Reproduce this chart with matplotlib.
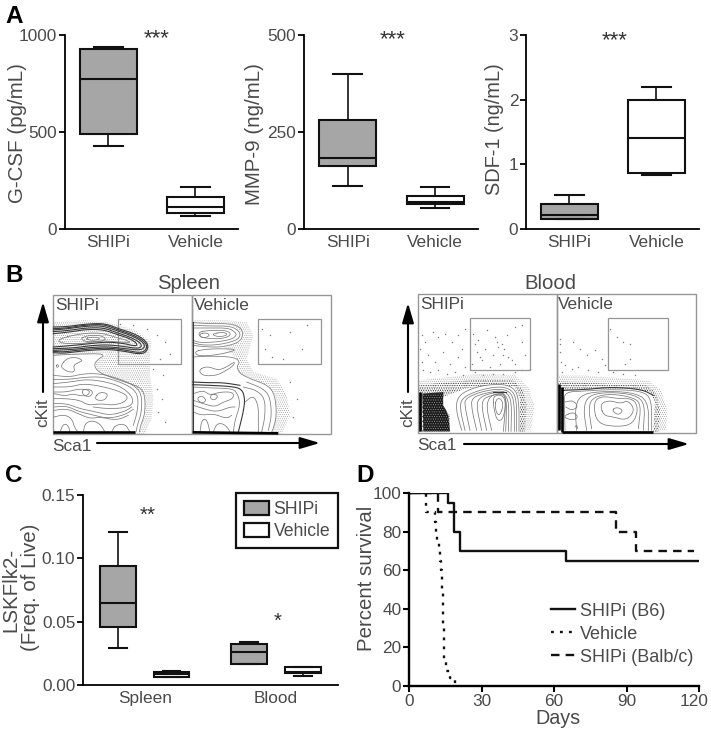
import numpy as np
import matplotlib
matplotlib.use("Agg")
import matplotlib.pyplot as plt
from matplotlib.patches import Polygon, Patch, Rectangle
from matplotlib.transforms import ScaledTranslation

plt.rcParams['font.family'] = ['Liberation Sans', 'DejaVu Sans']
plt.rcParams['hatch.linewidth'] = 0.4
W, H = 711, 729
TXT = '#4a4a4a'
GREY = '#a6a6a6'

# ---------- panel A / C box statistics: (whisker low, q1, median, q3, whisker high)
group_labels = ['SHIPi', 'Vehicle']
gcsf = [(430, 488, 771, 926, 940), (67, 84, 112, 163, 215)]
mmp9 = [(110, 162, 183, 280, 400), (55, 64, 70, 84, 108)]
sdf1 = [(0.15, 0.16, 0.22, 0.39, 0.53), (0.83, 0.86, 1.41, 1.99, 2.19)]
lsk = [(0.029, 0.046, 0.0645, 0.094, 0.121), (0.006, 0.0066, 0.0084, 0.0103, 0.0113),
       (0.0163, 0.0163, 0.0258, 0.032, 0.034), (0.0071, 0.0092, 0.0105, 0.0145, 0.0145)]
lsk_groups = ['Spleen', 'Blood']

# ---------- panel D survival
b6_days = [0, 16.2, 18.8, 20.9, 65, 120]
b6_pct = [100, 95, 80, 70, 65, 65]
veh_days = [0, 7, 10.8, 11.2, 11.7, 12.3, 12.8, 13.2, 13.5, 13.8, 14, 14.1, 14.2, 14.3, 14.6, 15.3, 17, 19]
veh_pct = [100, 90, 85, 80, 75, 70, 65, 60, 55, 50, 45, 40, 30, 20, 13, 8, 4, 0]
balb_days = [0, 11.9, 85.8, 94, 117.8]
balb_pct = [100, 90, 80, 70, 70]
surv_labels = ['SHIPi (B6)', 'Vehicle', 'SHIPi (Balb/c)']

# ---------- panel B flow outlines (3x crop coordinates)
ss_lines = [
 [(10,190),(80,186),(170,185),(140,205),(132,220),(145,240),(180,255),(230,272),(270,285),(285,310),(285,365),(272,400),(268,420)],
 [(10,250),(60,255),(100,245),(150,245),(200,258),(250,278),(275,305),(275,360),(262,400),(258,420)],
 [(10,262),(60,262),(110,255),(160,255),(210,270),(250,290),(265,315),(262,360),(250,400)],
 [(35,217),(50,200),(75,195),(100,205),(85,212),(70,220),(75,240),(55,240),(35,228),(35,217)],
 [(18,222),(22,217),(27,222),(22,227),(18,222)],
 [(10,275),(60,270),(110,262),(160,268),(210,282),(245,310),(250,335),(225,348),(170,350),(130,345)],
 [(12,285),(60,285),(100,275),(150,282),(200,295),(235,312),(225,330),(190,340),(150,335),(115,340),(90,325),(50,320),(12,320)],
 [(12,300),(50,300),(90,290),(120,295),(115,310),(90,312),(70,305),(45,312),(12,305)],
 [(12,335),(50,335),(90,350),(130,358),(180,370),(225,358),(245,345)],
 [(12,345),(50,342),(85,358),(125,368),(175,380),(225,368),(250,352)],
 [(12,355),(50,350),(85,365),(120,380),(150,375),(200,385),(235,370)],
 [(12,375),(40,368),(65,378),(75,410),(85,420)],
 [(100,420),(105,395),(125,385),(150,395),(165,420)],
 [(185,420),(195,400),(225,395),(240,420)],
 [(30,420),(40,395),(55,400),(60,420)],
 [(95,295),(115,290),(130,300),(120,315),(100,310),(95,295)],
 [(135,315),(150,300),(175,305),(165,325),(140,325),(135,315)],
 [(30,140),(90,125),(150,122),(195,135),(230,145),(245,152),(200,150),(150,145),(100,155),(50,155),(25,150),(30,140)],
 [(90,140),(115,130),(150,130),(170,140),(150,150),(110,150),(90,140)],
 [(105,140),(125,135),(145,137),(150,142),(125,146),(105,140)],
]
ss_dark = [
 [(10,105),(50,104),(100,97),(150,94),(178,99),(205,110),(245,122),(280,140),(296,160),(288,182),(265,186),(230,179),(180,172),(130,174),(80,179),(40,184),(10,182)],
 [(10,110),(50,108),(100,100),(150,97),(175,102),(200,112),(240,125),(275,142),(292,160),(285,178),(265,182),(230,175),(180,168),(130,170),(80,175),(40,180),(10,178)],
 [(10,114),(55,110),(103,103),(155,101),(188,112),(240,129),(272,145),(286,161),(275,175),(225,170),(175,164),(125,166),(75,172),(10,175)],
 [(10,119),(60,115),(105,108),(160,107),(200,122),(240,135),(268,150),(276,162),(265,170),(220,163),(170,158),(120,161),(70,168),(10,170)],
 [(10,125),(60,120),(110,112),(160,113),(200,127),(240,140),(262,155),(258,163),(215,153),(165,150),(110,156),(60,161),(10,165)],
]
ss_heavy = [[(10,421),(255,421)]]
ss_stipple = [(10,90),(100,85),(170,90),(250,112),(305,150),(300,190),(300,250),(310,320),(305,380),(285,425),(10,425)]
ss_clear = [(10,190),(170,185),(135,215),(145,240),(230,272),(285,310),(285,365),(268,422),(10,422)]
ss_dots = [(210,95),(250,100),(290,110),(320,130),(345,150),(360,185),(330,200),(310,230),(340,250),(320,290),(335,320),(325,360),(345,390)]

sv_lines = [
 [(8,92),(60,95),(120,95),(150,105),(160,125),(150,150),(100,165),(50,165),(8,160)],
 [(8,100),(60,102),(120,102),(145,115),(152,130),(140,145),(90,158),(40,160),(8,152)],
 [(8,108),(60,108),(115,108),(135,120),(140,130),(125,142),(80,150),(30,152),(8,145)],
 [(25,120),(60,115),(110,115),(125,128),(100,140),(60,140),(30,135),(25,120)],
 [(30,125),(50,122),(60,130),(45,138),(30,135),(30,125)],
 [(70,125),(100,120),(115,128),(90,135),(70,130),(70,125)],
 [(15,178),(45,172),(90,170),(145,172),(100,185),(50,192),(20,190),(15,178)],
 [(8,195),(60,192),(130,195),(150,208),(140,225),(150,245),(180,260),(235,280),(255,310),(260,370),(250,410),(245,420)],
 [(25,235),(50,222),(85,235),(110,225),(135,208),(130,222),(100,240),(80,250),(40,252),(25,235)],
 [(8,285),(70,288),(130,290),(145,310),(150,340),(135,385),(130,420)],
 [(170,270),(220,290),(240,315),(245,370),(235,415)],
 [(160,285),(200,295),(225,320),(225,375),(215,420)],
 [(165,330),(190,310),(205,340),(205,385),(205,420)],
 [(10,305),(40,295),(60,310),(90,300),(130,300),(130,320),(100,330),(75,345),(40,335),(10,325)],
 [(10,340),(40,350),(80,360),(120,345),(135,345)],
 [(10,360),(35,370),(70,365),(110,380),(125,370)],
 [(30,420),(35,385),(50,380),(60,420)],
 [(70,420),(80,395),(100,395),(115,410),(120,420)],
 [(20,320),(35,310),(50,325),(35,335),(20,320)],
 [(65,305),(85,310),(75,325),(60,320),(65,305)],
]
sv_dark = [[(8,270),(50,272),(100,272),(150,280)], [(8,278),(60,280),(120,283),(155,290),(165,320),(160,360),(145,420)], [(8,90),(8,420)]]
sv_heavy = [[(8,421),(265,424)]]
sv_stipple = [(10,85),(110,85),(170,90),(190,130),(170,200),(190,240),(260,260),(290,310),(300,370),(275,425),(8,425)]
sv_clear = [(8,92),(120,95),(160,125),(150,150),(100,165),(135,195),(150,208),(140,225),(150,245),(235,280),(255,310),(260,370),(245,422),(8,422)]
sv_dots = [(215,110),(240,130),(225,170),(245,195),(300,120),(350,100),(335,170),(280,200),(300,270),(320,320),(310,375)]

bs_lines = [
 [(140,415),(122,350),(130,310),(180,285),(250,275),(295,285),(312,320),(312,418)],
 [(150,415),(135,350),(140,318),(190,295),(250,283),(290,292),(305,325),(305,418)],
 [(165,415),(150,345),(150,320),(195,300),(250,290),(285,298),(298,330),(298,418)],
 [(185,415),(170,350),(170,318),(205,305),(255,295),(280,305),(290,335),(288,418)],
 [(200,415),(185,345),(190,320),(220,305),(260,300),(275,315),(282,340),(280,418)],
 [(215,415),(200,345),(205,320),(230,310),(262,305),(272,320),(275,345),(272,418)],
 [(230,415),(215,350),(220,320),(240,305),(270,305),(272,340),(265,418)],
 [(235,340),(235,315),(250,308),(268,315),(272,345),(262,385),(245,385),(235,340)],
 [(240,340),(245,320),(258,320),(265,340),(255,370),(245,365),(240,340)],
]
bs_dark = [[(235,300),(272,300)]]
bs_heavy = [[(15,300),(15,418)]]
bs_stipple = [(12,265),(100,255),(200,245),(300,250),(340,285),(358,340),(348,418),(12,420)]
bs_band = [(12,280),(100,270),(200,262),(295,265),(325,295),(335,340),(330,420),(12,420)]
bs_black = [(22,305),(85,300),(85,340),(100,370),(105,418),(25,418)]
bs_clear = [(85,315),(150,290),(250,275),(300,285),(315,320),(315,420),(105,420),(105,370),(85,340)]
bs_dots = [(22,130),(30,150),(55,120),(70,135),(90,125),(110,150),(130,130),(150,110),(175,125),(190,145),(215,115),
 (240,135),(260,155),(275,130),(300,105),(320,150),(185,180),(210,170),(235,190),(250,165),(268,170),(290,205),(300,215),
 (330,190),(40,190),(60,210),(85,180),(105,215),(130,195),(150,225),(170,215),(200,205),(225,225),(255,215),(280,195),
 (25,235),(45,240),(70,235),(95,245),(120,240),(145,250),(180,240),(205,250),(235,245),(265,245),(300,240),(320,235),
 (15,170),(20,210),(345,230),(180,155),(195,195),(245,150),(265,190),(320,100),(140,170)]
bv_lines = [
 [(30,415),(28,330),(30,300),(90,297),(170,292),(260,297),(290,320),(290,415)],
 [(65,415),(60,350),(75,310),(130,298),(230,300),(280,325),(280,415)],
 [(95,415),(85,350),(100,310),(160,300),(240,308),(270,335),(265,415)],
 [(110,410),(100,345),(115,315),(170,305),(240,318),(258,340),(250,410)],
 [(125,395),(115,330),(140,312),(190,320),(235,320),(250,350),(235,395),(190,405),(125,395)],
 [(145,370),(135,335),(165,325),(195,335),(220,325),(240,355),(215,385),(175,375),(145,370)],
 [(170,355),(185,345),(205,355),(190,370),(170,355)],
 [(30,370),(55,360),(70,375),(55,385),(30,378),(30,370)],
 [(30,330),(55,325),(70,345),(50,355),(32,345)],
 [(60,405),(65,398),(68,410)],
]
bv_dark = [[(25,295),(100,292),(170,285),(260,292),(295,310)]]
bv_heavy = [[(12,275),(12,415)], [(22,285),(22,420)], [(22,420),(295,420)]]
bv_stipple = [(10,250),(80,250),(180,257),(280,265),(318,295),(338,360),(332,415),(300,420),(20,420)]
bv_band = [(10,268),(80,272),(180,276),(275,280),(305,305),(315,360),(310,420),(20,420)]
bv_clear = [(25,295),(130,290),(230,290),(285,300),(300,330),(295,418),(22,418)]
bv_dots = [(15,140),(15,180),(18,210),(55,150),(75,170),(95,190),(120,175),(140,200),(165,110),(185,135),(205,150),(225,155),
 (210,215),(225,200),(30,220),(50,230),(70,225),(100,235),(130,240),(150,220),(175,240),(205,245),(240,250),(20,240),(15,155)]


def px_axes(fig, l, t, r, b):
    return fig.add_axes([l / W, 1 - b / H, (r - l) / W, (b - t) / H])


def stats(rows, labels):
    return [dict(whislo=r[0], q1=r[1], med=r[2], q3=r[3], whishi=r[4], label=n, fliers=[])
            for r, n in zip(rows, labels)]


def boxes(ax, rows, labels, pos, width):
    return ax.bxp(stats(rows, labels), positions=pos, widths=width, patch_artist=True, showfliers=False,
                  capwidths=width * 0.5,
                  boxprops=dict(linewidth=1.5, edgecolor='#111111'),
                  medianprops=dict(color='#111111', linewidth=1.5),
                  whiskerprops=dict(color='#111111', linewidth=1.2),
                  capprops=dict(color='#111111', linewidth=1.5))


def style(ax):
    for s in ('top', 'right'):
        ax.spines[s].set_visible(False)
    for s in ('left', 'bottom'):
        ax.spines[s].set_linewidth(1.3)
    ax.tick_params(axis='y', labelsize=12.4, labelcolor=TXT, length=4, width=1.3, pad=1.5)
    ax.tick_params(axis='x', labelsize=12.4, labelcolor=TXT, length=0, pad=4)


fig = plt.figure(figsize=(W / 100, H / 100), dpi=100)

# Panel A
a_specs = [
    (65, 238, gcsf, (0, 1000), [0, 500, 1000]),
    (304, 478, mmp9, (0, 500), [0, 250, 500]),
    (526, 699, sdf1, (0, 3), [0, 1, 2, 3]),
]
for l, r, rows, yl, yt in a_specs:
    ax = px_axes(fig, l, 35, r, 229)
    arts = boxes(ax, rows, group_labels, [1, 2], 0.655)
    arts['boxes'][0].set_facecolor(GREY)
    arts['boxes'][1].set_facecolor('white')
    ax.set_xlim(0.5, 2.49)
    ax.set_ylim(*yl)
    ax.set_yticks(yt)
    style(ax)

# Panel C
ax = px_axes(fig, 83, 495, 338, 685)
pos = [1, 2, 3.45, 4.45]
arts = boxes(ax, lsk, [''] * 4, pos, 0.67)
for i, b in enumerate(arts['boxes']):
    b.set_facecolor(GREY if i % 2 == 0 else 'white')
ax.set_xlim(0.346, 5.11)
ax.set_ylim(0, 0.15)
ax.set_yticks([0, 0.05, 0.10, 0.15])
ax.set_yticklabels(['0.00', '0.05', '0.10', '0.15'])
ax.set_xticks([1.5, 3.95])
ax.set_xticklabels(lsk_groups)
style(ax)
leg = ax.legend(handles=[Patch(facecolor=GREY, edgecolor='#111111', linewidth=1.6, label=group_labels[0]),
                         Patch(facecolor='white', edgecolor='#111111', linewidth=1.6, label=group_labels[1])],
                loc='upper right', bbox_to_anchor=(1.0, 1.012), fontsize=12.7, fancybox=False, framealpha=1,
                edgecolor='#111111', labelcolor=TXT, handlelength=1.4, handleheight=0.85, handletextpad=0.25,
                labelspacing=0.28, borderpad=0.45, borderaxespad=0)
leg.get_frame().set_linewidth(1.6)

# Panel D
ax = px_axes(fig, 409, 493, 699, 686)
ax.step(b6_days, b6_pct, where='post', color='#111111', lw=1.7, label=surv_labels[0])
ax.step(veh_days, veh_pct, where='post', color='#111111', lw=1.7, ls=(0, (1.2, 2.6)), label=surv_labels[1])
ax.step(balb_days, balb_pct, where='post', color='#111111', lw=1.7, ls=(0, (3.6, 2.6)), label=surv_labels[2])
ax.set_xlim(0, 120)
ax.set_ylim(0, 100)
ax.set_xticks([0, 30, 60, 90, 120])
ax.set_yticks([0, 20, 40, 60, 80, 100])
style(ax)
for s in ('left', 'bottom'):
    ax.spines[s].set_linewidth(1.7)
ax.tick_params(axis='x', length=4, width=1.5, pad=1.5)
ax.tick_params(axis='y', width=1.5)
last = ax.get_xticklabels()[-1]
last.set_transform(last.get_transform() + ScaledTranslation(-5 / 100, 0, fig.dpi_scale_trans))
ax.legend(loc='upper left', bbox_to_anchor=(0.488, 0.432), frameon=False, fontsize=13, labelcolor=TXT,
          handlelength=1.35, handletextpad=0.3, labelspacing=0.33, borderpad=0, borderaxespad=0)

# Overlay in picture coordinates for panel B and free text
ov = fig.add_axes([0, 0, 1, 1], zorder=5)
ov.set_xlim(0, W)
ov.set_ylim(H, 0)
ov.axis('off')


def conv(pts, ox, oy):
    p = np.array(pts, float) / 3 + (ox, oy)
    closed = np.allclose(p[0], p[-1])
    for _ in range(2):
        a, b = p[:-1], p[1:]
        q = np.empty((2 * len(a), 2))
        q[0::2] = 0.75 * a + 0.25 * b
        q[1::2] = 0.25 * a + 0.75 * b
        p = np.vstack([q, q[:1]]) if closed else np.vstack([p[:1], q, p[-1:]])
    return p


def shade(pts, ox, oy, color, hatch, fc='none'):
    ov.add_patch(Polygon(np.array(pts, float) / 3 + (ox, oy), closed=True, facecolor=fc,
                         edgecolor=color, lw=0, hatch=hatch))


def flow(ox, oy, stipple, clear, lines, dark, heavy, dots=None, black=None, band=None):
    shade(stipple, ox, oy, '#9a9a9a', '........')
    if band is not None:
        shade(band, ox, oy, '#333333', '.......')
    if black is not None:
        shade(black, ox, oy, '#a0a0a0', '.......', fc='#1a1a1a')
    ov.add_patch(Polygon(np.array(clear, float) / 3 + (ox, oy), closed=True, facecolor='white', edgecolor='none'))
    if dots is not None:
        d = np.array(dots, float) / 3 + (ox, oy)
        ov.scatter(d[:, 0], d[:, 1], s=1.1, color='#808080', linewidths=0)
    for ln in lines:
        p = conv(ln, ox, oy)
        ov.plot(p[:, 0], p[:, 1], color='#7a7a7a', lw=0.55)
    for ln in dark:
        p = conv(ln, ox, oy)
        ov.plot(p[:, 0], p[:, 1], color='#3a3a3a', lw=0.8)
    for ln in heavy:
        p = conv(ln, ox, oy)
        ov.plot(p[:, 0], p[:, 1], color='#000000', lw=1.9, solid_capstyle='butt')


flow(50, 292, ss_stipple, ss_clear, ss_lines, ss_dark, ss_heavy, ss_dots)
flow(190, 292, sv_stipple, sv_clear, sv_lines, sv_dark, sv_heavy, sv_dots)
flow(415, 292, bs_stipple, bs_clear, bs_lines, bs_dark, bs_heavy, bs_dots, bs_black, bs_band)
flow(555, 292, bv_stipple, bv_clear, bv_lines, bv_dark, bv_heavy, bv_dots, None, bv_band)

FRAME = '#969696'
for x0, x1, y0, y1 in [(53, 192, 295, 434), (192, 331, 295, 434), (418, 557, 294, 433), (557, 696, 294, 433)]:
    ov.add_patch(Rectangle((x0, y0), x1 - x0, y1 - y0, fill=False, edgecolor=FRAME, lw=1.0))
for x0, x1, y0, y1 in [(118, 181, 319, 364), (258, 321, 319, 364), (470, 530, 318, 370), (608, 668, 318, 370)]:
    ov.add_patch(Rectangle((x0, y0), x1 - x0, y1 - y0, fill=False, edgecolor=FRAME, lw=0.9))


def arrow(x0, y0, x1, y1):
    ov.annotate('', xy=(x1, y1), xytext=(x0, y0),
                arrowprops=dict(arrowstyle='-|>,head_length=0.75,head_width=0.22', color='black', lw=1.5,
                                shrinkA=0, shrinkB=0, mutation_scale=16))


arrow(43, 392, 43, 302)
arrow(97, 443, 320, 443)
arrow(408, 392, 408, 303)
arrow(464, 444, 689, 444)


def t(x, y, s, size=12.4, rot=0, ha='center', va='center', **kw):
    kw.setdefault('color', TXT)
    ov.text(x, y, s, fontsize=size, rotation=rot, ha=ha, va=va, **kw)


for x, y, s in [(5, 16, 'A'), (5, 275, 'B'), (5, 475, 'C'), (356, 475, 'D')]:
    t(x, y, s, size=17.5, ha='left', weight='bold', color='black')
t(18, 133, 'G-CSF (pg/mL)', 14.8, 90)
t(255, 134, 'MMP-9 (ng/mL)', 14.8, 90)
t(495, 129, 'SDF-1 (ng/mL)', 14.4, 90)
t(11, 590, 'LSKFlk2-', 14.8, 90)
t(30, 587, '(Freq. of Live)', 14.8, 90)
t(366, 578, 'Percent survival', 14.7, 90)
t(558, 718, 'Days', 14.2)
t(157, 38.5, '***', 16, color='#333333')
t(393, 39.5, '***', 16, color='#333333')
t(615, 40.5, '***', 16, color='#333333')
t(148, 515, '**', 14.8, color='#333333')
t(278, 621, '*', 14.8, color='#333333')
t(189, 283, 'Spleen', 14.6)
t(550, 283, 'Blood', 14.6)
t(55, 305, 'SHIPi', 12.4, ha='left')
t(194, 305, 'Vehicle', 12.4, ha='left')
t(420, 304, 'SHIPi', 12.4, ha='left')
t(558, 304, 'Vehicle', 12.4, ha='left')
t(52, 446, 'Sca1', 12.4, ha='left')
t(417, 445, 'Sca1', 12.4, ha='left')
t(43, 413, 'cKit', 12.4, 90)
t(408, 413, 'cKit', 12.4, 90)

fig.savefig('out.png', dpi=100)
